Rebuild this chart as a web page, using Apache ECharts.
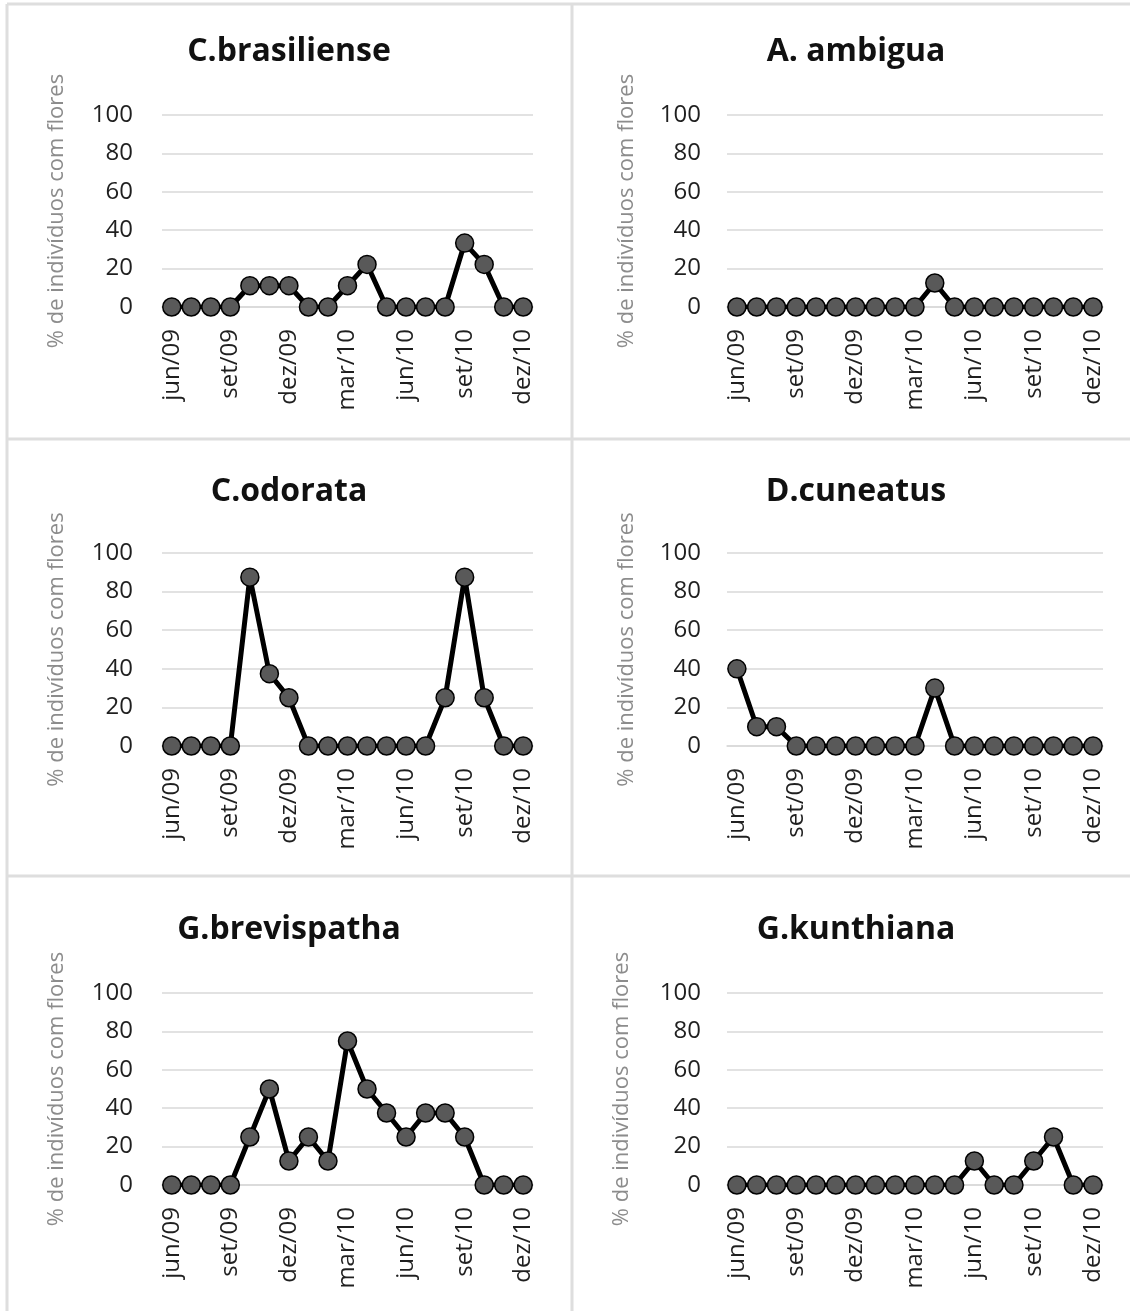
<!DOCTYPE html>
<html>
<head>
<meta charset="utf-8">
<script src="https://cdn.jsdelivr.net/npm/echarts@6/dist/echarts.min.js"></script>
<style>
  html, body { margin: 0; padding: 0; background: #fff; }
  #main { width: 1132px; height: 1311px; }
</style>
</head>
<body>
<div id="main"></div>
<script>
// meses (jun/09 - dez/10)
const months = ['jun/09', 'jul/09', 'ago/09', 'set/09', 'out/09', 'nov/09', 'dez/09',
  'jan/10', 'fev/10', 'mar/10', 'abr/10', 'mai/10', 'jun/10', 'jul/10', 'ago/10',
  'set/10', 'out/10', 'nov/10', 'dez/10'];
const yTicks = [0, 20, 40, 60, 80, 100];

const species = ['C.brasiliense', 'A. ambigua', 'C.odorata', 'D.cuneatus', 'G.brevispatha', 'G.kunthiana'];

const cBrasiliense = [0, 0, 0, 0, 11.1, 11.1, 11.1, 0, 0, 11.1, 22.2, 0, 0, 0, 0, 33.3, 22.2, 0, 0];
const aAmbigua = [0, 0, 0, 0, 0, 0, 0, 0, 0, 0, 12.5, 0, 0, 0, 0, 0, 0, 0, 0];
const cOdorata = [0, 0, 0, 0, 87.5, 37.5, 25, 0, 0, 0, 0, 0, 0, 0, 25, 87.5, 25, 0, 0];
const dCuneatus = [40, 10, 10, 0, 0, 0, 0, 0, 0, 0, 30, 0, 0, 0, 0, 0, 0, 0, 0];
const gBrevispatha = [0, 0, 0, 0, 25, 50, 12.5, 25, 12.5, 75, 50, 37.5, 25, 37.5, 37.5, 25, 0, 0, 0];
const gKunthiana = [0, 0, 0, 0, 0, 0, 0, 0, 0, 0, 0, 0, 12.5, 0, 0, 12.5, 25, 0, 0];

const seriesData = [cBrasiliense, aAmbigua, cOdorata, dCuneatus, gBrevispatha, gKunthiana];

// posicao de cada painel
const panels = [
  {left: 162, width: 371, top: 115, height: 192, titleX: 289, titleY: 52, gap: 94, margin: 29},
  {left: 727, width: 376, top: 115, height: 192, titleX: 856, titleY: 52, gap: 89, margin: 26},
  {left: 162, width: 371, top: 553, height: 193, titleX: 289, titleY: 492, gap: 94, margin: 29},
  {left: 727, width: 376, top: 553, height: 193, titleX: 856, titleY: 492, gap: 89, margin: 26},
  {left: 162, width: 371, top: 993, height: 192, titleX: 289, titleY: 930, gap: 94, margin: 29},
  {left: 727, width: 376, top: 993, height: 192, titleX: 856, titleY: 930, gap: 94, margin: 26}
];

const font = '"Open Sans", "Liberation Sans", sans-serif';
const gridColor = '#d9d9d9';

let myChart = echarts.init(document.getElementById('main'));

let titles = [], grids = [], xAxes = [], yAxes = [], series = [];
panels.forEach(function (p, i) {
  titles.push({
    text: species[i],
    left: p.titleX,
    top: p.titleY,
    textAlign: 'center',
    textVerticalAlign: 'middle',
    padding: 0,
    textStyle: {fontFamily: font, fontSize: 32, fontWeight: 'bold', color: '#111'}
  });
  grids.push({left: p.left, top: p.top, width: p.width, height: p.height});
  xAxes.push({
    type: 'category',
    gridIndex: i,
    data: months,
    boundaryGap: true,
    axisLine: {lineStyle: {color: gridColor, width: 1.5}},
    axisTick: {interval: 2, length: 7, lineStyle: {color: gridColor, width: 1.5}},
    axisLabel: {
      interval: 2,
      rotate: 90,
      margin: 22,
      fontFamily: font,
      fontSize: 24,
      color: '#1f1f1f'
    }
  });
  yAxes.push({
    type: 'value',
    gridIndex: i,
    min: yTicks[0],
    max: yTicks[yTicks.length - 1],
    interval: yTicks[1] - yTicks[0],
    name: '% de indivíduos com flores',
    nameLocation: 'middle',
    nameGap: p.gap,
    nameTextStyle: {fontFamily: font, fontSize: 22, color: '#8c8c8c'},
    axisLine: {show: false},
    axisTick: {show: false},
    splitLine: {lineStyle: {color: gridColor, width: 1.5}},
    axisLabel: {margin: p.margin, fontFamily: font, fontSize: 24, color: '#1f1f1f'}
  });
  series.push({
    name: species[i],
    type: 'line',
    xAxisIndex: i,
    yAxisIndex: i,
    data: seriesData[i],
    showAllSymbol: true,
    symbol: 'circle',
    symbolSize: 18,
    lineStyle: {color: '#000', width: 5},
    itemStyle: {color: '#595959', borderColor: '#000', borderWidth: 1.5},
    animation: false,
    z: 3
  });
});

// bordas dos paineis
const borderLines = [
  [7, 4, 1130, 4], [7, 4, 7, 1311], [572, 4, 572, 1311],
  [7, 439, 1130, 439], [7, 876, 1130, 876]
];

myChart.setOption({
  backgroundColor: '#fff',
  animation: false,
  title: titles,
  grid: grids,
  xAxis: xAxes,
  yAxis: yAxes,
  series: series,
  graphic: borderLines.map(function (l) {
    return {
      type: 'line',
      shape: {x1: l[0], y1: l[1], x2: l[2], y2: l[3]},
      style: {stroke: '#dedede', lineWidth: 3},
      silent: true
    };
  })
});
</script>
</body>
</html>
